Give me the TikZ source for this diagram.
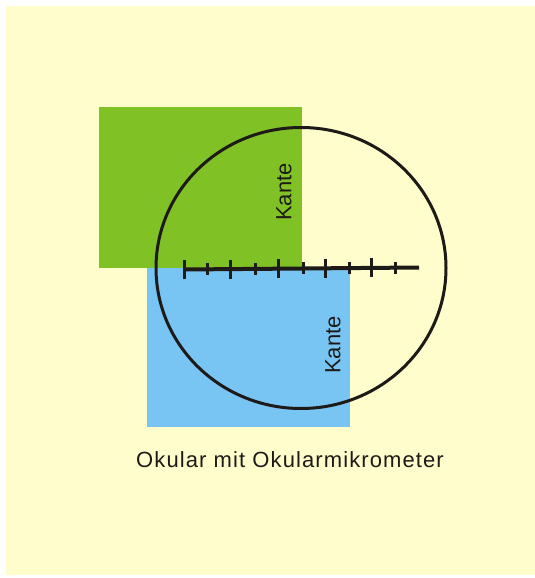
\documentclass[tikz,border=0pt]{standalone}
\usepackage{fontspec}
\setmainfont{Liberation Sans}
\usetikzlibrary{shapes.geometric}
\definecolor{bgyellow}{HTML}{FFFDCC}
\definecolor{kgreen}{HTML}{80C226}
\definecolor{kblue}{HTML}{78C4F2}
\definecolor{ink}{HTML}{1E1A18}
\begin{document}
\begin{tikzpicture}[x=1pt,y=-1pt,
  lbl/.style={font=\fontsize{22}{22}\selectfont, text=ink, inner sep=0pt},
  longtick/.style={ink, line width=3pt},
  shorttick/.style={ink, line width=3pt}]
\useasboundingbox (0,0) rectangle (535,578);
\fill[white] (0,0) rectangle (535,578);
\fill[bgyellow] (6,6) rectangle (535,575);
\fill[kgreen] (99,107) rectangle (302,268);
\fill[kblue] (147,268) rectangle (350,427);
\node (circ) [draw=ink, line width=3pt, ellipse, minimum width=290pt, minimum height=281pt, inner sep=0pt] at (301,268) {};
\coordinate (sL) at (184,269.5);
\coordinate (sR) at (419,267.5);
\draw[ink, line width=4pt] (sL) -- (sR);
\foreach \x/\y in {184/269.5, 230/269, 278/268.5, 325/268, 371/267.8} {
  \draw[longtick] (\x,\y-9.5) -- (\x,\y+9.5);
}
\foreach \x/\y in {207/269.2, 255/268.7, 303/268.2, 349/267.9, 395/267.6} {
  \draw[shorttick] (\x,\y-6) -- (\x,\y+6);
}
\node (k1) [lbl, rotate=90] at (284,192) {Kante};
\node (k2) [lbl, rotate=90] at (333,345) {Kante};
\node (cap) [lbl, font=\fontsize{22}{22}\selectfont\addfontfeature{LetterSpace=5}] at (290,460) {Okular mit Okularmikrometer};
\end{tikzpicture}
\end{document}
